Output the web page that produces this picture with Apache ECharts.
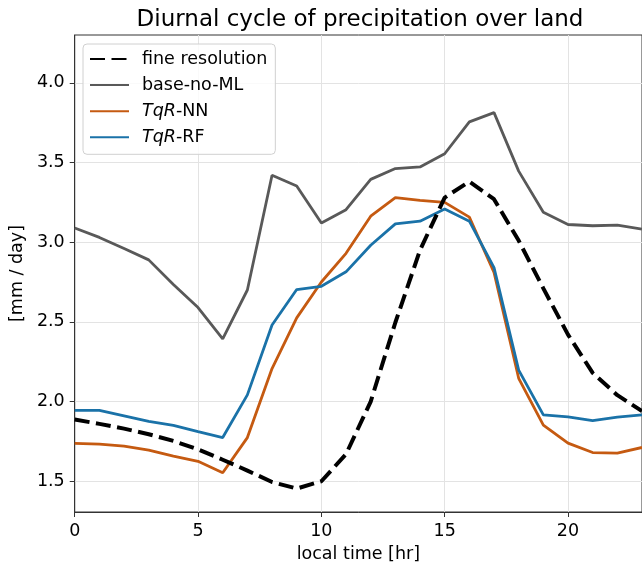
<!DOCTYPE html>
<html>
<head>
<meta charset="utf-8">
<script src="https://cdn.jsdelivr.net/npm/echarts@6/dist/echarts.min.js"></script>
<style>
  html, body { margin: 0; padding: 0; background: #fff; }
  #chart { width: 642px; height: 568px; }
</style>
</head>
<body>
<div id="chart"></div>
<script>
const hours = [0, 1, 2, 3, 4, 5, 6, 7, 8, 9, 10, 11, 12, 13, 14, 15, 16, 17, 18, 19, 20, 21, 22, 23];
const fineResolution = [1.887, 1.86, 1.83, 1.795, 1.753, 1.70, 1.635, 1.567, 1.495, 1.454, 1.50, 1.67,
  2.00, 2.496, 2.95, 3.28, 3.38, 3.27, 3.01, 2.71, 2.42, 2.18, 2.04, 1.94];
const baseNoML = [3.089, 3.03, 2.96, 2.889, 2.735, 2.59, 2.393, 2.70, 3.42, 3.353, 3.12, 3.204,
  3.394, 3.462, 3.472, 3.555, 3.755, 3.813, 3.446, 3.188, 3.111, 3.103, 3.107, 3.082];
const tqrNN = [1.737, 1.733, 1.72, 1.695, 1.658, 1.625, 1.553, 1.774, 2.207, 2.525, 2.75, 2.93,
  3.163, 3.279, 3.262, 3.25, 3.157, 2.81, 2.146, 1.852, 1.739, 1.68, 1.677, 1.712];
const tqrRF = [1.945, 1.945, 1.91, 1.875, 1.85, 1.811, 1.774, 2.042, 2.48, 2.703, 2.723, 2.814,
  2.981, 3.115, 3.132, 3.208, 3.132, 2.84, 2.197, 1.916, 1.904, 1.881, 1.902, 1.916];
const xTicks = [0, 5, 10, 15, 20];
const yTicks = [1.5, 2.0, 2.5, 3.0, 3.5, 4.0];

const font = 'DejaVu Sans';
const fs = 17.5;
const pairs = (vals) => hours.map((h, i) => [h, vals[i]]);

const chart = echarts.init(document.getElementById('chart'));

const lineSeries = (name, vals, color, width, type) => ({
  name: name,
  type: 'line',
  data: pairs(vals),
  symbol: 'none',
  lineStyle: { color: color, width: width, type: type || 'solid' },
  itemStyle: { color: color },
  z: name === 'fine resolution' ? 5 : 3,
});

chart.setOption({
  animation: false,
  title: {
    text: 'Diurnal cycle of precipitation over land',
    left: 355,
    textAlign: 'center',
    top: 4,
    textStyle: { fontFamily: font, fontSize: 23, fontWeight: 'normal', color: '#000' },
  },
  legend: {
    orient: 'vertical',
    left: 83,
    top: 44,
    padding: [5, 8, 7, 6],
    itemWidth: 39,
    itemHeight: 14,
    itemGap: 6.1,
    borderColor: '#d0d0d0',
    borderWidth: 1,
    borderRadius: 4,
    backgroundColor: 'rgba(255,255,255,0.8)',
    itemStyle: { opacity: 0 },
    textStyle: {
      fontFamily: font, fontSize: fs, color: '#000', lineHeight: 20,
      padding: [0, 0, 0, 8],
      rich: {
        i: { fontFamily: font, fontSize: fs, fontStyle: 'italic', color: '#000', lineHeight: 20 },
      },
    },
    formatter: (name) => name.startsWith('TqR') ? '{i|TqR}' + name.slice(3) : name,
    data: ['fine resolution', 'base-no-ML', 'TqR-NN', 'TqR-RF'],
  },
  grid: {
    left: 74, right: 0, top: 35, bottom: 49,
    show: true, borderColor: '#333', borderWidth: 1,
  },
  xAxis: {
    type: 'value',
    min: 0,
    max: 23,
    name: 'local time [hr]',
    nameLocation: 'middle',
    nameGap: 33,
    nameTextStyle: { fontFamily: font, fontSize: fs, color: '#000' },
    axisLine: { lineStyle: { color: '#333' } },
    axisTick: { length: 5, lineStyle: { color: '#333' }, customValues: xTicks },
    axisLabel: { fontFamily: font, fontSize: fs, color: '#000', margin: 10, customValues: xTicks },
    splitLine: { show: true, lineStyle: { color: '#e3e3e3' } },
  },
  yAxis: {
    type: 'value',
    min: 1.307,
    max: 4.30,
    name: '[mm / day]',
    nameLocation: 'middle',
    nameRotate: 90,
    nameGap: 43,
    nameTextStyle: { fontFamily: font, fontSize: fs, color: '#000' },
    axisLine: { show: true, lineStyle: { color: '#333' } },
    axisTick: { show: true, length: 5, lineStyle: { color: '#333' }, customValues: yTicks },
    axisLabel: {
      fontFamily: font, fontSize: fs, color: '#000', margin: 10,
      customValues: yTicks,
      formatter: (v) => v.toFixed(1),
    },
    splitLine: { show: true, lineStyle: { color: '#e3e3e3' } },
  },
  series: [
    lineSeries('fine resolution', fineResolution, '#000000', 4, [15, 6.5]),
    lineSeries('base-no-ML', baseNoML, '#595959', 2.8),
    lineSeries('TqR-NN', tqrNN, '#c55a11', 2.8),
    lineSeries('TqR-RF', tqrRF, '#1a72a8', 2.8),
  ],
});
</script>
</body>
</html>
